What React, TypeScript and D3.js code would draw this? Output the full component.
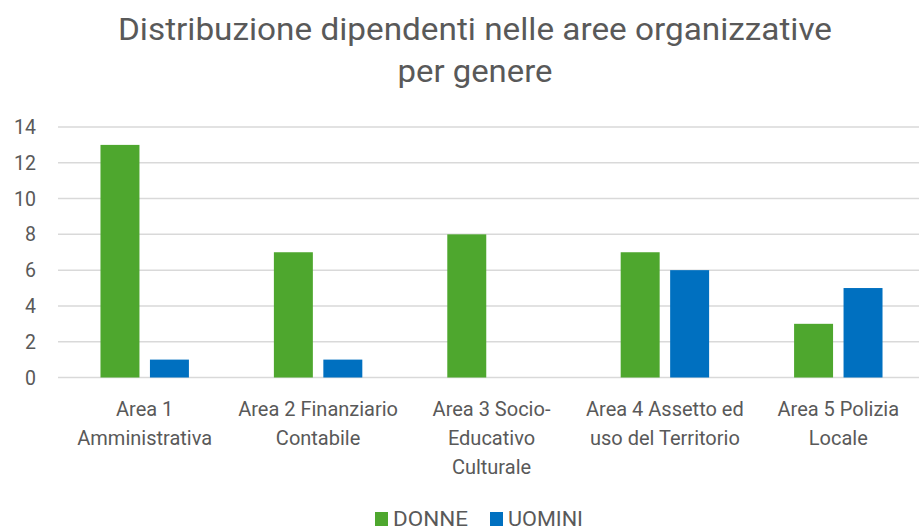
import React, { useEffect, useRef } from 'react'
import * as d3 from 'd3'

// chart data
const categories = [
  ['Area 1', 'Amministrativa'],
  ['Area 2 Finanziario', 'Contabile'],
  ['Area 3 Socio-', 'Educativo', 'Culturale'],
  ['Area 4 Assetto ed', 'uso del Territorio'],
  ['Area 5 Polizia', 'Locale'],
]
const donne = [13, 7, 8, 7, 3]
const uomini = [1, 1, 0, 6, 5]
const seriesNames = ['DONNE', 'UOMINI']
const seriesColors = ['#4EA72E', '#0070C0']
const yTicks = [0, 2, 4, 6, 8, 10, 12, 14]
const titleLines = ['Distribuzione dipendenti nelle aree organizzative', 'per genere']

const FONT = 'Roboto, "Noto Sans", sans-serif'
const TEXT = '#595959'

export default function App() {
  const ref = useRef<SVGSVGElement>(null)

  useEffect(() => {
    const svg = d3.select(ref.current)
    svg.selectAll('*').remove()

    const width = 919
    const height = 528
    const margin = { top: 127, right: -6, bottom: 150, left: 58 }

    const keys = categories.map((c, i) => String(i))
    const x = d3.scaleBand()
      .domain(keys)
      .range([margin.left, width - margin.right])
    const x1 = d3.scaleBand()
      .domain(seriesNames)
      .range([0, x.bandwidth()])
      .paddingInner(0.212)
      .paddingOuter(0.859)
    const y = d3.scaleLinear()
      .domain([0, 14])
      .range([height - margin.bottom - 0.5, margin.top])

    // title
    svg.append('g')
      .selectAll('text')
      .data(titleLines)
      .enter().append('text')
      .attr('x', 475)
      .attr('y', (d, i) => 40 + i * 42)
      .attr('text-anchor', 'middle')
      .attr('font-family', FONT)
      .attr('font-size', 31)
      .attr('fill', TEXT)
      .attr('textLength', (d, i) => (i === 0 ? 714 : 155))
      .attr('lengthAdjust', 'spacingAndGlyphs')
      .text(d => d)

    // gridlines
    svg.append('g')
      .selectAll('line')
      .data(yTicks)
      .enter().append('line')
      .attr('x1', margin.left)
      .attr('x2', width)
      .attr('y1', d => y(d))
      .attr('y2', d => y(d))
      .attr('stroke', '#D9D9D9')
      .attr('stroke-width', 1.5)

    // y tick labels
    svg.append('g')
      .selectAll('text')
      .data(yTicks)
      .enter().append('text')
      .attr('x', 36)
      .attr('y', d => y(d))
      .attr('dy', '0.36em')
      .attr('text-anchor', 'end')
      .attr('font-family', FONT)
      .attr('font-size', 19.5)
      .attr('fill', TEXT)
      .text(d => d)

    // bars
    const rows = categories.map((c, i) => ({ key: String(i), values: [donne[i], uomini[i]] }))
    const groups = svg.append('g')
      .selectAll('g')
      .data(rows)
      .enter().append('g')
      .attr('transform', d => `translate(${x(d.key)},0)`)
    groups.selectAll('rect')
      .data(d => d.values.map((v, j) => ({ name: seriesNames[j], value: v, color: seriesColors[j] })))
      .enter().append('rect')
      .filter(d => d.value > 0)
      .attr('x', d => x1(d.name)!)
      .attr('width', x1.bandwidth())
      .attr('y', d => y(d.value))
      .attr('height', d => y(0) - y(d.value))
      .attr('fill', d => d.color)

    // category labels
    const labels = svg.append('g')
      .selectAll('text')
      .data(rows)
      .enter().append('text')
      .attr('text-anchor', 'middle')
      .attr('font-family', FONT)
      .attr('font-size', 20)
      .attr('fill', TEXT)
    labels.selectAll('tspan')
      .data((d, i) => categories[i].map(line => ({ line, cx: x(d.key)! + x.bandwidth() / 2 })))
      .enter().append('tspan')
      .attr('x', d => d.cx)
      .attr('y', (d, i) => 416 + i * 29)
      .text(d => d.line)

    // legend
    const legend = svg.append('g')
    const legendX = [375, 490]
    seriesNames.forEach((name, i) => {
      legend.append('rect')
        .attr('x', legendX[i])
        .attr('y', 512)
        .attr('width', 13)
        .attr('height', 14)
        .attr('fill', seriesColors[i])
      legend.append('text')
        .attr('x', legendX[i] + 18)
        .attr('y', 526)
        .attr('font-family', FONT)
        .attr('font-size', 20)
        .attr('fill', TEXT)
        .attr('textLength', 75)
        .attr('lengthAdjust', 'spacingAndGlyphs')
        .text(name)
    })
  }, [])

  return (
    <div style={{ position: 'absolute', left: 0, top: 0 }}>
      <svg ref={ref} width={919} height={528} style={{ display: 'block', background: '#fff' }} />
    </div>
  )
}
